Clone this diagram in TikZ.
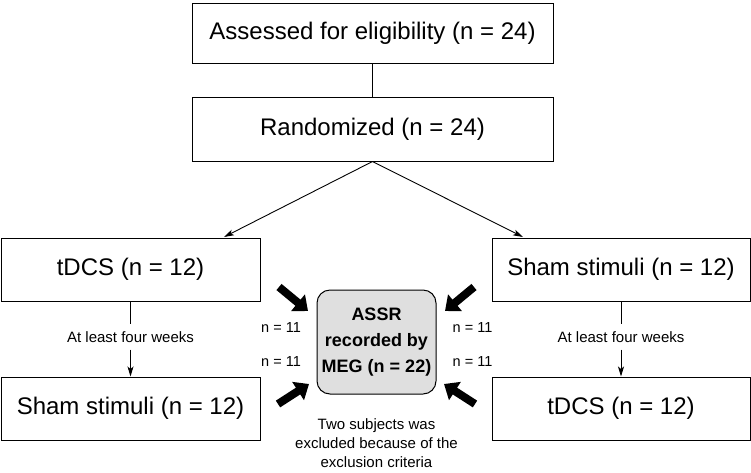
\documentclass[tikz,border=0pt]{standalone}
\usepackage{fontspec}
\setmainfont{Liberation Sans}
\usetikzlibrary{arrows.meta}
\begin{document}
\begin{tikzpicture}[x=1pt,y=-1pt,
  bigbox/.style={draw=black,line width=1pt,rectangle,inner sep=0pt,font=\fontsize{24}{28}\selectfont},
  centerbox/.style={draw=black,line width=1pt,rounded corners=13pt,fill=gray!25,inner sep=0pt,
     minimum width=119pt,minimum height=104pt,align=center,font=\fontsize{18}{26}\selectfont\bfseries},
  small/.style={font=\fontsize{15}{20}\selectfont,inner sep=0pt,align=center},
  nlab/.style={font=\fontsize{14.5}{17}\selectfont,inner sep=0pt},
  thin/.style={line width=0.9pt,-{Stealth[length=10pt,width=6pt,inset=2.5pt]}},
  conn/.style={line width=0.9pt},
  fat/.style={line width=8pt,-{Triangle[length=13pt,width=21pt]}}]
\useasboundingbox (0,0) rectangle (751,472);
\node[bigbox,minimum width=361pt,minimum height=60pt] (elig) at (372.5,33) {Assessed for eligibility (n = 24)};
\node[bigbox,minimum width=361pt,minimum height=64pt] (rand) at (372.5,129) {Randomized (n = 24)};
\node[bigbox,minimum width=259pt,minimum height=63pt] (tdcsL) at (130.5,269.5) {tDCS (n = 12)};
\node[bigbox,minimum width=259pt,minimum height=63pt] (shamL) at (130.5,408.5) {Sham stimuli (n = 12)};
\node[bigbox,minimum width=258pt,minimum height=63pt] (shamR) at (621,269.5) {Sham stimuli (n = 12)};
\node[bigbox,minimum width=258pt,minimum height=63pt] (tdcsR) at (621,408.5) {tDCS (n = 12)};
\node[centerbox] (assr) at (376.5,342) {ASSR\\recorded by\\MEG (n = 22)};
\node[small,minimum height=25pt] (wL) at (130.5,337) {At least four weeks};
\node[small,minimum height=25pt] (wR) at (621,337) {At least four weeks};
\node[nlab] (n1) at (281,328) {n = 11};
\node[nlab] (n2) at (281,362) {n = 11};
\node[nlab] (n3) at (472.5,328) {n = 11};
\node[nlab] (n4) at (472.5,362) {n = 11};
\node[small,font=\fontsize{15}{19}\selectfont] (excl) at (376.5,443.5) {Two subjects was\\excluded because of the\\exclusion criteria};
\draw[conn] (elig) -- (rand);
\coordinate (aL) at (224,237);
\coordinate (aR) at (523,237);
\draw[thin] (rand.south) -- (aL);
\draw[thin] (rand.south) -- (aR);
\draw[conn] (tdcsL) -- (wL);
\draw[thin] (wL) -- (shamL);
\draw[conn] (shamR) -- (wR);
\draw[thin] (wR) -- (tdcsR);
\coordinate (f1a) at (279,287);
\coordinate (f1b) at (308,311);
\coordinate (f2a) at (278,404);
\coordinate (f2b) at (309,384);
\coordinate (f3a) at (474,287);
\coordinate (f3b) at (445,311);
\coordinate (f4a) at (475,404);
\coordinate (f4b) at (444,384);
\draw[fat] (f1a) -- (f1b);
\draw[fat] (f2a) -- (f2b);
\draw[fat] (f3a) -- (f3b);
\draw[fat] (f4a) -- (f4b);
\end{tikzpicture}
\end{document}
